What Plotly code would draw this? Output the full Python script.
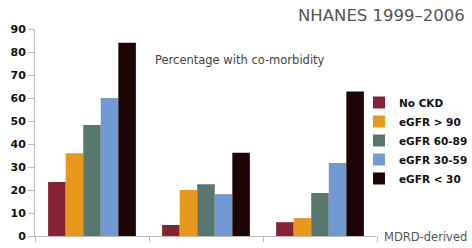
import plotly.graph_objects as go

categories = ["A", "B", "C"]
series_names = ["No CKD", "eGFR > 90", "eGFR 60-89", "eGFR 30-59", "eGFR < 30"]
no_ckd = [23.5, 4.8, 6.0]
egfr_gt90 = [36.0, 20.0, 7.8]
egfr_60_89 = [48.3, 22.5, 18.7]
egfr_30_59 = [60.0, 18.2, 31.7]
egfr_lt30 = [84.0, 36.2, 62.8]
y_ticks = [0, 10, 20, 30, 40, 50, 60, 70, 80, 90]

colors = ["#852235", "#E8991C", "#58786F", "#7199D2", "#1E0505"]
values = [no_ckd, egfr_gt90, egfr_60_89, egfr_30_59, egfr_lt30]

W, H = 472, 248
l, r, t, b = 35, 95, 29, 12
pw, ph = W - l - r, H - t - b
def px(xp): return (xp - l) / pw
def py(yp): return (H - b - yp) / ph

fig = go.Figure()
for name, vals, col in zip(series_names, values, colors):
    fig.add_trace(go.Bar(x=categories, y=vals, name=name, marker=dict(color=col, line=dict(width=0))))

fig.update_layout(
    width=W, height=H,
    margin=dict(l=l, r=r, t=t, b=b, autoexpand=False),
    paper_bgcolor="white", plot_bgcolor="white",
    barmode="group", bargap=0.23, bargroupgap=0,
    font=dict(family="DejaVu Sans", color="#222"),
    legend=dict(x=px(359), y=py(88), xanchor="left", yanchor="top",
                font=dict(family="DejaVu Sans", size=10.5, color="#111", weight="bold"),
                itemwidth=30, tracegroupgap=0, bgcolor="rgba(0,0,0,0)"),
    xaxis=dict(showticklabels=False, ticks="outside", tickson="boundaries", ticklen=5,
               tickcolor="#BBBBBB", showline=True, linecolor="#BBBBBB", linewidth=1,
               showgrid=False, zeroline=False),
    yaxis=dict(range=[0, 90], tickvals=y_ticks, ticks="outside", ticklen=6,
               tickcolor="#BBBBBB", showline=True, linecolor="#BBBBBB", linewidth=1,
               showgrid=False, zeroline=False,
               tickfont=dict(family="DejaVu Sans", size=11, color="#111", weight="bold")),
)
fig.add_annotation(text="NHANES 1999–2006", x=px(467), y=py(16), xref="paper", yref="paper",
                   showarrow=False, xanchor="right", yanchor="middle",
                   font=dict(family="DejaVu Sans", size=16.5, color="#555"))
fig.add_annotation(text="Percentage with co-morbidity", x=px(153), y=py(60), xref="paper", yref="paper",
                   showarrow=False, xanchor="left", yanchor="middle",
                   font=dict(family="DejaVu Sans", size=11.5, color="#444"))
fig.add_annotation(text="MDRD-derived", x=px(469), y=py(237), xref="paper", yref="paper",
                   showarrow=False, xanchor="right", yanchor="middle",
                   font=dict(family="DejaVu Sans", size=11.5, color="#555"))

fig.write_html("out.html", config={"displayModeBar": False},
               post_script="document.body.style.margin='0';")
